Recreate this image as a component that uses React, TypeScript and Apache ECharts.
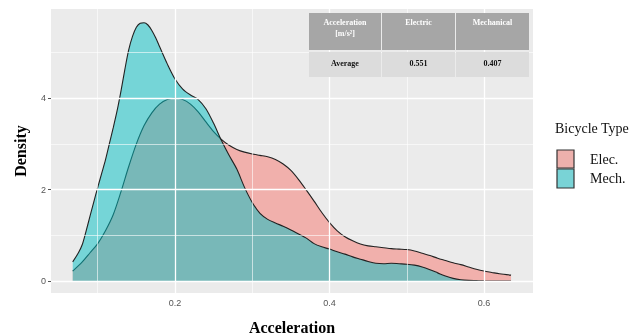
import React, { useEffect, useRef } from "react";
import * as echarts from "echarts";

// Density curves
const elecX = [0.0676, 0.08, 0.09, 0.10, 0.11, 0.12, 0.13, 0.14, 0.15, 0.16, 0.17, 0.18, 0.19, 0.20, 0.21, 0.22, 0.23, 0.24, 0.25, 0.26, 0.27, 0.28, 0.29, 0.30, 0.31, 0.32, 0.33, 0.34, 0.35, 0.36, 0.37, 0.38, 0.39, 0.40, 0.41, 0.42, 0.43, 0.44, 0.45, 0.46, 0.47, 0.48, 0.49, 0.50, 0.51, 0.52, 0.53, 0.54, 0.55, 0.56, 0.57, 0.58, 0.59, 0.60, 0.61, 0.62, 0.635];
const elecY = [0.22, 0.42, 0.62, 0.82, 1.1, 1.45, 1.95, 2.5, 3.0, 3.4, 3.68, 3.87, 3.97, 4.0, 3.97, 3.87, 3.7, 3.48, 3.27, 3.1, 2.97, 2.88, 2.82, 2.78, 2.75, 2.72, 2.66, 2.56, 2.42, 2.22, 1.99, 1.75, 1.5, 1.28, 1.1, 0.97, 0.88, 0.81, 0.77, 0.75, 0.73, 0.71, 0.7, 0.69, 0.66, 0.61, 0.56, 0.5, 0.45, 0.4, 0.36, 0.31, 0.26, 0.22, 0.19, 0.16, 0.13];

const mechX = [0.0676, 0.075, 0.08, 0.085, 0.09, 0.095, 0.10, 0.105, 0.11, 0.115, 0.12, 0.125, 0.13, 0.135, 0.14, 0.145, 0.15, 0.155, 0.16, 0.165, 0.17, 0.175, 0.18, 0.19, 0.20, 0.21, 0.22, 0.23, 0.24, 0.25, 0.26, 0.27, 0.28, 0.29, 0.30, 0.31, 0.32, 0.33, 0.34, 0.35, 0.36, 0.37, 0.38, 0.39, 0.40, 0.41, 0.42, 0.43, 0.44, 0.45, 0.46, 0.47, 0.48, 0.49, 0.50, 0.51, 0.52, 0.53, 0.54, 0.55, 0.56, 0.57, 0.58, 0.59, 0.60, 0.635];
const mechY = [0.42, 0.62, 0.8, 1.1, 1.42, 1.74, 2.05, 2.35, 2.65, 3.0, 3.35, 3.72, 4.15, 4.62, 5.05, 5.35, 5.55, 5.64, 5.65, 5.6, 5.48, 5.32, 5.13, 4.75, 4.42, 4.2, 4.07, 3.97, 3.77, 3.45, 3.08, 2.75, 2.45, 2.05, 1.72, 1.48, 1.35, 1.27, 1.2, 1.12, 1.03, 0.94, 0.82, 0.75, 0.7, 0.64, 0.59, 0.53, 0.48, 0.43, 0.39, 0.38, 0.39, 0.38, 0.37, 0.35, 0.31, 0.25, 0.18, 0.11, 0.06, 0.03, 0.015, 0.01, 0.005, 0.003];

const xTicks = [0.2, 0.4, 0.6];
const xMinor = [0.1, 0.3, 0.5];
const yTicks = [0, 2, 4];
const yMinor = [1, 3, 5];

const seriesNames = ["Elec.", "Mech."];
const tableHeader = ["Acceleration\n[m/s²]", "Electric", "Mechanical"];
const tableRow = ["Average", "0.551", "0.407"];

export default function App() {
  const ref = useRef<HTMLDivElement>(null);
  useEffect(() => {
    if (!ref.current) return;
    const chart = echarts.init(ref.current, null, { renderer: "svg" });
    const gridLines = [
      ...xTicks.map((v) => ({ xAxis: v, lineStyle: { width: 1.3 } })),
      ...xMinor.map((v) => ({ xAxis: v, lineStyle: { width: 0.6 } })),
      ...yTicks.map((v) => ({ yAxis: v, lineStyle: { width: 1.3 } })),
      ...yMinor.map((v) => ({ yAxis: v, lineStyle: { width: 0.6 } })),
    ];
    const colX = [309, 382, 456];
    const colW = [72, 73, 73];
    const tableGraphics: any[] = [];
    colX.forEach((x, i) => {
      tableGraphics.push({ type: "rect", shape: { x, y: 13, width: colW[i], height: 37 }, style: { fill: "#A6A6A6" }, z: 10 });
      tableGraphics.push({ type: "rect", shape: { x, y: 52, width: colW[i], height: 25 }, style: { fill: "#DCDCDC" }, z: 10 });
      tableGraphics.push({
        type: "text", x: x + colW[i] / 2, y: i === 0 ? 28 : 22, z: 11,
        style: { text: tableHeader[i], fill: "#FFFFFF", font: "bold 8px 'Liberation Serif'", align: "center", verticalAlign: "middle", lineHeight: 11 },
      });
      tableGraphics.push({
        type: "text", x: x + colW[i] / 2, y: 63, z: 11,
        style: { text: tableRow[i], fill: "#111111", font: "bold 8px 'Liberation Serif'", align: "center", verticalAlign: "middle" },
      });
    });
    chart.setOption({
      animation: false,
      grid: { left: 51, right: 96, top: 9, bottom: 42, show: true, backgroundColor: "#EBEBEB", borderWidth: 0, containLabel: false, outerBoundsMode: "none" },
      xAxis: {
        type: "value", min: 0.0395, max: 0.6634,
        axisLine: { show: false },
        splitLine: { show: false },
        axisTick: { show: true, customValues: xTicks, length: 3, lineStyle: { color: "#555" } },
        axisLabel: { customValues: xTicks, color: "#555", fontSize: 9, margin: 5, fontFamily: "Liberation Sans" },
        name: "Acceleration", nameLocation: "middle", nameGap: 26,
        nameTextStyle: { color: "#000", fontSize: 16, fontWeight: "bold", fontFamily: "Liberation Serif" },
      },
      yAxis: {
        type: "value", min: -0.26, max: 5.95,
        axisLine: { show: false },
        splitLine: { show: false },
        axisTick: { show: true, customValues: yTicks, length: 3, lineStyle: { color: "#555" } },
        axisLabel: { customValues: yTicks, color: "#555", fontSize: 9, margin: 5, fontFamily: "Liberation Sans" },
        name: "Density", nameLocation: "middle", nameGap: 23, nameRotate: 90,
        nameTextStyle: { color: "#000", fontSize: 16, fontWeight: "bold", fontFamily: "Liberation Serif" },
      },
      series: [
        {
          type: "line", data: [], z: 1, silent: true,
          markLine: { silent: true, symbol: ["none", "none"], label: { show: false }, lineStyle: { color: "#FFFFFF", type: "solid" }, data: gridLines },
        },
        {
          name: seriesNames[0], type: "line", z: 2, showSymbol: false, smooth: 0.3,
          data: elecX.map((x, i) => [x, elecY[i]]),
          lineStyle: { color: "#222", width: 1.1 },
          areaStyle: { color: "rgba(248,118,109,0.5)", opacity: 1 },
        },
        {
          name: seriesNames[1], type: "line", z: 3, showSymbol: false, smooth: 0.3,
          data: mechX.map((x, i) => [x, mechY[i]]),
          lineStyle: { color: "#222", width: 1.1 },
          areaStyle: { color: "rgba(0,191,196,0.5)", opacity: 1 },
        },
      ],
      graphic: [
        ...tableGraphics,
        { type: "text", x: 555, y: 121, style: { text: "Bicycle Type", fill: "#111", font: "14px 'Liberation Serif'" } },
        { type: "rect", shape: { x: 557, y: 150, width: 17, height: 18 }, style: { fill: "#EDB0AC", stroke: "#333", lineWidth: 1.2 } },
        { type: "rect", shape: { x: 557, y: 169, width: 17, height: 19 }, style: { fill: "#79D3D6", stroke: "#333", lineWidth: 1.2 } },
        { type: "text", x: 590, y: 159, style: { text: seriesNames[0], fill: "#111", font: "14px 'Liberation Serif'", verticalAlign: "middle" } },
        { type: "text", x: 590, y: 178, style: { text: seriesNames[1], fill: "#111", font: "14px 'Liberation Serif'", verticalAlign: "middle" } },
      ],
    });
    return () => chart.dispose();
  }, []);
  return <div ref={ref} style={{ position: "fixed", left: 0, top: 0, width: 629, height: 335 }} />;
}
